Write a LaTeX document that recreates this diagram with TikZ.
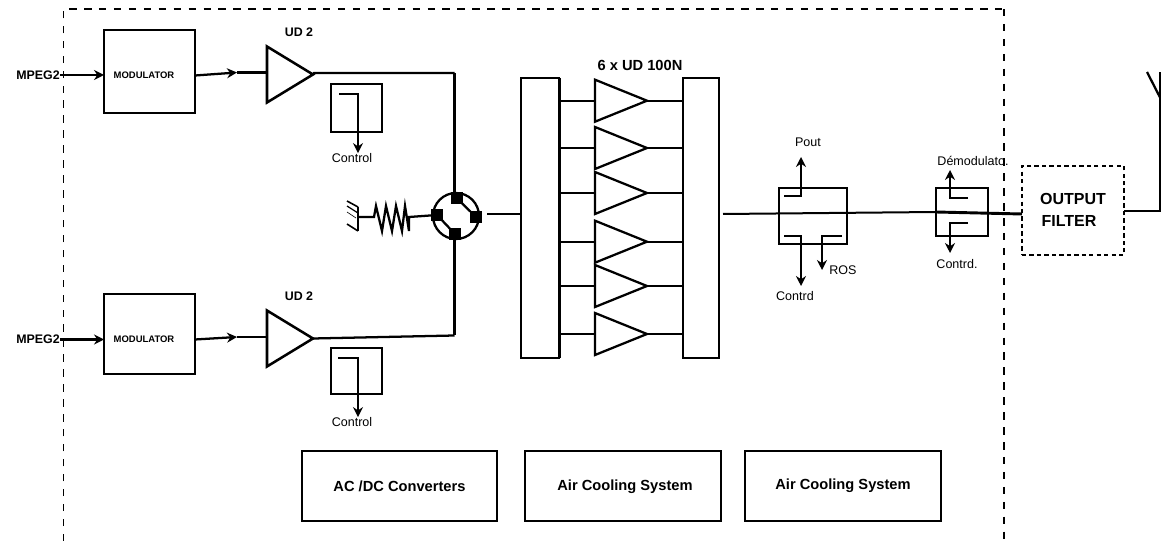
\documentclass[tikz,border=0pt]{standalone}
\usepackage{fontspec}
\setmainfont{Liberation Sans}
\usetikzlibrary{arrows.meta,shapes.geometric}
\def\pxu{0.75pt}
\tikzset{
  wire/.style={line width=1.7pt,line join=miter},
  sig/.style={line width=1.7pt,-{Stealth[length=7.5pt,width=7.5pt]}},
  box/.style={draw,line width=1.7pt,inner sep=0pt,outer sep=0pt,rectangle},
  amp/.style={draw,line width=1.9pt,isosceles triangle,isosceles triangle stretches,
     shape border rotate=0,inner sep=0pt,outer sep=0pt,anchor=apex},
  port/.style={fill=black,draw=black,inner sep=0pt,outer sep=0pt,rectangle,
     minimum width=11*\pxu,minimum height=11*\pxu},
  lab/.style={inner sep=0pt,font=\fontsize{9.4}{11}\selectfont},
  blab/.style={inner sep=0pt,font=\fontsize{9.3}{11}\selectfont\bfseries},
  modlab/.style={inner sep=0pt,font=\fontsize{7.1}{8}\selectfont\bfseries},
  suplab/.style={font=\fontsize{11}{13}\selectfont\bfseries},
  dash frame/.style={line width=1.3pt,dash pattern=on 5.6pt off 5.6pt},
}
\begin{document}
\begin{tikzpicture}[x=0.75pt,y=-0.75pt]
\useasboundingbox (0,0) rectangle (1161,541);
% outer dashed frame
\coordinate (fbl) at (63.5,541);
\coordinate (ftl) at (63.5,9);
\coordinate (ftr) at (1004,9);
\coordinate (fbr) at (1004,541);
\draw[dash frame] (fbl) -- (ftl) -- (ftr);
\draw[dash frame,line width=1.9pt] (ftr) -- (fbr);

% --- upper chain
\node[blab] (in1) at (38,75) {MPEG2};
\node[box,minimum width=91*\pxu,minimum height=83*\pxu] (mod1) at (149.5,71.5) {};
\node[modlab] (mod1t) at (144,75.5) {MODULATOR};
\coordinate (mod1w) at (104,75);
\draw[sig] (in1.east) -- (mod1w);
\node[amp,minimum height=46*\pxu,minimum width=56*\pxu] (ud1) at (313,74.5) {};
\node[blab] (ud1t) at (299,32) {UD 2};
\coordinate (a1) at (237,72.5);
\coordinate (ud1w) at (ud1.west |- a1);
\coordinate (mod1e) at (195,75.5);
\draw[sig] (mod1e) -- (a1);
\draw[wire] (a1) -- (ud1w);
\coordinate (j1) at (454.5,73);
\draw[wire] (ud1.apex) -- (314,73) -- (j1);
\node[box,line width=1.5pt,minimum width=51*\pxu,minimum height=48*\pxu] (c1) at (356.5,108) {};
\coordinate (c1a) at (339,94);
\coordinate (c1b) at (358,94);
\node[lab] (c1t) at (352,158) {Control};
\draw[sig] (c1a) -- (c1b) -- (c1t.north -| c1b);

% --- lower chain
\node[blab] (in2) at (38,339.5) {MPEG2};
\node[box,minimum width=91*\pxu,minimum height=80*\pxu] (mod2) at (149.5,334) {};
\node[modlab] (mod2t) at (144,339) {MODULATOR};
\coordinate (mod2w) at (104,339.5);
\draw[sig] (in2.east) -- (mod2w);
\node[amp,minimum height=46*\pxu,minimum width=56*\pxu] (ud2) at (313,338.5) {};
\node[blab] (ud2t) at (299,296) {UD 2};
\coordinate (a2) at (237,337);
\coordinate (ud2w) at (ud2.west |- a2);
\coordinate (mod2e) at (195,339.5);
\draw[sig] (mod2e) -- (a2);
\draw[wire] (a2) -- (ud2w);
\coordinate (j2) at (454.5,335.5);
\draw[wire] (ud2.apex) -- (j2);
\node[box,line width=1.5pt,minimum width=51*\pxu,minimum height=46*\pxu] (c2) at (356.5,371) {};
\coordinate (c2a) at (338,358);
\coordinate (c2b) at (358,358);
\node[lab] (c2t) at (352,422) {Control};
\draw[sig] (c2a) -- (c2b) -- (c2t.north -| c2b);

% --- hybrid coupler
\node[draw,circle,line width=1.7pt,minimum size=46*\pxu,inner sep=0pt,outer sep=0pt] (hyb) at (456,216) {};
\node[port] (pt) at (456.5,198) {};
\node[port] (pr) at (476,217) {};
\node[port] (pb) at (455,234) {};
\node[port] (pl) at (437,215) {};
\draw[wire] (pt) -- (pr);
\draw[wire] (pl) -- (pb);
\draw[wire] (j1) -- (pt.center -| j1);
\draw[wire] (j2) -- (pb.center -| j2);

% --- load resistor and ground
\coordinate (g) at (358,217);
\coordinate (r1) at (374,217);
\coordinate (r2) at (409,217);
\draw[wire] (g) -- (r1) -- (376,206) -- (382,231) -- (386,206) -- (392,231) -- (396,206) -- (402,231) -- (405,206) -- (409,231) -- (r2) -- (pl);
\coordinate (g1) at (358,207);
\coordinate (g2) at (358,231);
\draw[wire] (g1) -- (g2);
\draw[line width=1.2pt] (347,201) -- (g1);
\draw[line width=.9pt] (347,206) -- (358,213);
\draw[line width=.5pt] (347,212) -- (356,218);
\draw[line width=1.2pt] (347,224) -- (g2);

% --- splitter, amplifiers, combiner
\node[box,minimum width=38*\pxu,minimum height=280*\pxu] (split) at (540,218) {};
\draw[line width=2.6pt] ([xshift=0.5pt]split.north east) -- ([xshift=0.5pt]split.south east);
\node[box,minimum width=36*\pxu,minimum height=280*\pxu] (comb) at (701,218) {};
\node[inner sep=0pt,font=\fontsize{11}{13}\selectfont\bfseries] (ampt) at (640,65) {6 x UD 100N};
\foreach \n/\yc in {1/100.7,2/148,3/193,4/241.7,5/286,6/334}{
  \node[amp,line width=1.7pt,minimum height=52*\pxu,minimum width=42*\pxu] (pa\n) at (647,\yc) {};
  \draw[wire] (split.east |- pa\n.apex) -- (pa\n.west |- pa\n.apex);
  \draw[wire] (pa\n.apex) -- (comb.west |- pa\n.apex);
}
\coordinate (hout) at (487,214);
\draw[wire] (hout) -- (split.west |- hout);

% --- couplers
\coordinate (cout) at (723,214);
\node[box,line width=1.5pt,minimum width=68*\pxu,minimum height=56*\pxu] (dc1) at (813,216) {};
\node[box,line width=1.5pt,minimum width=52*\pxu,minimum height=48*\pxu] (dc2) at (962,212) {};
\node[box,line width=1.9pt,dash pattern=on 3.2pt off 2.4pt,minimum width=102*\pxu,minimum height=89*\pxu] (filt) at (1073,210.5) {};
\node[inner sep=0pt,font=\fontsize{12}{14}\selectfont\bfseries] (filt1) at (1073,199) {OUTPUT};
\node[inner sep=0pt,font=\fontsize{12}{14}\selectfont\bfseries] (filt2) at (1069,221) {FILTER};
\coordinate (dc2w) at (936,212);
\coordinate (fin) at (1022,214);
\draw[line width=1.5pt] (cout) -- (dc2w);
\draw[line width=2.2pt] (dc2w) -- (fin);

\node[lab] (pout) at (808,142) {Pout};
\node[lab] (ros) at (843,270) {ROS};
\node[lab] (ctl3) at (795,296) {Contrd};
\node[lab] (demod) at (973,161) {Démodulato.};
\node[lab] (ctl4) at (957,264) {Contrd.};
\coordinate (a3s) at (784,196);\coordinate (a3c) at (801,196);\coordinate (a3e) at (801,157);
\draw[sig] (a3s) -- (a3c) -- (a3e);
\coordinate (a4s) at (784,236);\coordinate (a4c) at (801,236);\coordinate (a4e) at (801,286);
\draw[sig] (a4s) -- (a4c) -- (a4e);
\coordinate (a5s) at (842,236);\coordinate (a5c) at (822,236);\coordinate (a5e) at (822,270);
\draw[sig] (a5s) -- (a5c) -- (a5e);
\coordinate (a6s) at (968,198);\coordinate (a6c) at (950,198);\coordinate (a6e) at (950,170);
\draw[sig] (a6s) -- (a6c) -- (a6e);
\coordinate (a7s) at (968,223);\coordinate (a7c) at (950,223);\coordinate (a7e) at (950,253);
\draw[sig] (a7s) -- (a7c) -- (a7e);

% --- antenna
\coordinate (ant1) at (1160.3,211);
\coordinate (ant2) at (1160.3,72);
\coordinate (ant3) at (1147,72);
\coordinate (ant4) at (1160.3,98);
\coordinate (fe) at (1124,211);
\draw[line width=1.3pt] (fe) -- (ant1) -- (ant2);
\draw[wire] (ant3) -- (ant4);

% --- support boxes
\node[box,suplab,minimum width=195*\pxu,minimum height=70*\pxu] (ps) at (399.5,486) {AC /DC Converters};
\node[box,minimum width=196*\pxu,minimum height=70*\pxu] (ac1) at (623,486) {};
\node[suplab,inner sep=0pt] (ac1t) at (625,487) {Air Cooling System};
\node[box,suplab,minimum width=196*\pxu,minimum height=70*\pxu] (ac2) at (843,486) {Air Cooling System};
\end{tikzpicture}
\end{document}
